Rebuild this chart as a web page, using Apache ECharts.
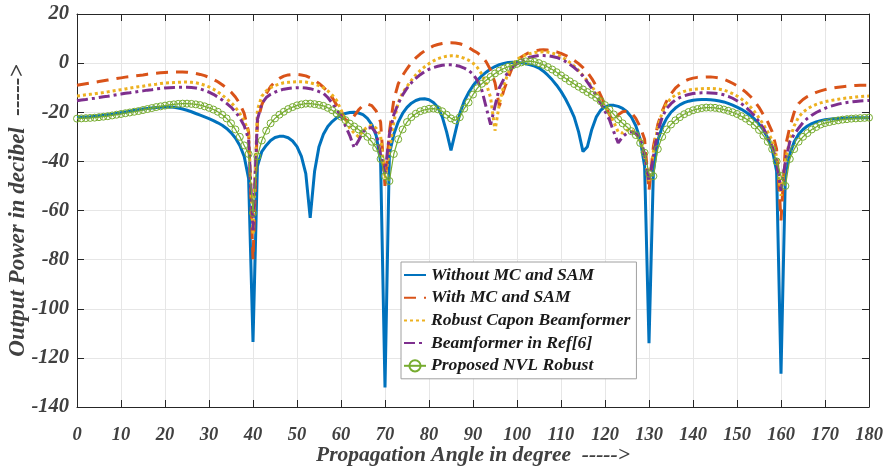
<!DOCTYPE html>
<html><head><meta charset="utf-8">
<script src="https://cdn.jsdelivr.net/npm/echarts@6/dist/echarts.min.js"></script>
<style>html,body{margin:0;padding:0;background:#fff}#c{width:886px;height:470px}</style>
</head><body><div id="c"></div>
<script>
const angles = [0,1,2,3,4,5,6,7,8,9,10,11,12,13,14,15,16,17,18,19,20,21,22,23,24,25,26,27,28,29,30,31,32,33,34,35,36,37,38,39,40,41,42,43,44,45,46,47,48,49,50,51,52,53,54,55,56,57,58,59,60,61,62,63,64,65,66,67,68,69,70,71,72,73,74,75,76,77,78,79,80,81,82,83,84,85,86,87,88,89,90,91,92,93,94,95,96,97,98,99,100,101,102,103,104,105,106,107,108,109,110,111,112,113,114,115,116,117,118,119,120,121,122,123,124,125,126,127,128,129,130,131,132,133,134,135,136,137,138,139,140,141,142,143,144,145,146,147,148,149,150,151,152,153,154,155,156,157,158,159,160,161,162,163,164,165,166,167,168,169,170,171,172,173,174,175,176,177,178,179,180];

const withoutMC = [
-22.0,-22.0,-21.9,-21.8,-21.6,-21.4,-21.2,-21.0,-20.8,-20.5,-20.2,-19.9,-19.6,-19.3,-19.0,-18.7,-18.5,-18.3,-18.1,-18.0,
-17.9,-17.9,-18.0,-18.3,-18.7,-19.2,-19.8,-20.5,-21.2,-21.9,-22.6,-23.4,-24.3,-25.3,-26.6,-28.3,-30.5,-33.5,-38.0,-47.0,
-113.5,-42,-36,-33.5,-31.5,-30.3,-29.8,-29.8,-30.4,-31.7,-34,-38,-45,-63,-44,-34,-29,-25.8,-23.8,-22.3,
-21.2,-20.5,-20.1,-20.0,-20.3,-21.0,-22.5,-25,-29.5,-40,-132,-37,-29,-24,-20.5,-18,-16.3,-15.2,-14.6,-14.5,
-14.9,-16,-18,-21.8,-28,-35.5,-28,-20.5,-15.5,-12,-9.2,-7.0,-5.2,-3.7,-2.4,-1.4,-0.6,-0.1,0.3,0.4,
0.3,0.1,-0.3,-0.7,-1.2,-2.0,-3.3,-4.9,-6.8,-9.0,-11.5,-14.5,-18,-22,-28,-36,-34,-27,-22,-19.2,
-17.8,-17.2,-17.2,-17.6,-18.4,-19.8,-22,-25.5,-31,-42,-114,-44,-31.5,-26,-22.5,-20,-18.3,-17,-16.1,-15.5,
-15.1,-14.9,-14.8,-14.8,-14.9,-15.1,-15.4,-15.8,-16.4,-17.1,-17.9,-18.8,-19.9,-21.2,-22.8,-24.8,-27.2,-30.5,-35,-44,
-126.5,-45,-37,-32,-29,-27,-25.6,-24.6,-23.9,-23.4,-23.0,-22.8,-22.6,-22.5,-22.4,-22.3,-22.3,-22.2,-22.2,-22.2,-22.2];

const withMC = [
-9.0,-8.7,-8.4,-8.1,-7.8,-7.5,-7.2,-6.9,-6.6,-6.3,-6.0,-5.7,-5.5,-5.2,-5.0,-4.8,-4.5,-4.3,-4.1,-3.9,
-3.8,-3.7,-3.6,-3.6,-3.6,-3.7,-3.9,-4.2,-4.6,-5.1,-5.8,-6.6,-7.6,-8.8,-10.2,-11.8,-13.8,-16.5,-20.5,-28,
-80,-24,-17,-12.5,-9.5,-7.6,-6.2,-5.3,-4.8,-4.6,-4.6,-4.8,-5.2,-6.0,-7.0,-8.3,-9.8,-11.7,-14,-17,
-19.5,-23,-24,-21.5,-19,-17.2,-16.6,-17.3,-19.5,-24,-50,-28,-15,-8.5,-5,-2.3,0.2,2.1,3.7,5.0,
6.1,7.0,7.6,8.0,8.3,8.3,8.2,7.9,7.3,6.4,5.2,4.2,2.8,0.5,-2.8,-8,-17.5,-11,-6,-1.5,
1.0,2.5,3.6,4.5,5.0,5.3,5.4,5.3,5.0,4.6,4.0,3.2,2.2,1.1,-0.2,-1.8,-3.8,-6.3,-9.3,-13,
-17,-21,-24,-21,-19.8,-19.5,-20.2,-22.5,-26,-31,-52,-34,-25,-19.5,-15.5,-12.5,-10.2,-8.6,-7.4,-6.6,
-6.1,-5.8,-5.7,-5.6,-5.6,-5.8,-6.1,-6.6,-7.3,-8.2,-9.2,-10.4,-11.8,-13.5,-15.5,-18,-21,-24,-28,-35,
-64,-34,-26,-20,-16.5,-14.8,-13.6,-12.7,-11.9,-11.3,-10.8,-10.4,-10.1,-9.8,-9.6,-9.4,-9.2,-9.1,-9.0,-9.0,-9.0];

const robustCapon = [
-13.4,-13.2,-12.9,-12.7,-12.5,-12.2,-12.0,-11.7,-11.4,-11.1,-10.8,-10.5,-10.2,-9.9,-9.6,-9.4,-9.1,-8.8,-8.6,-8.3,
-8.1,-8.0,-7.9,-7.8,-7.7,-7.7,-7.8,-8.0,-8.4,-9.0,-9.7,-10.6,-11.7,-13.0,-14.5,-16.0,-18.0,-20.5,-23.5,-28,
-70,-19,-13.5,-11.3,-10,-9.1,-8.5,-8.0,-7.8,-7.7,-7.6,-7.6,-7.7,-8.0,-8.5,-9.2,-10.0,-11.3,-13.0,-15.2,
-19,-23,-26.5,-28.5,-30,-27.5,-26,-25.3,-26.5,-29.5,-47,-36,-24,-16,-12,-9.5,-7,-4.8,-3,-1.5,
-0.2,0.9,1.8,2.4,2.8,3.0,2.9,2.6,2.0,1.2,0,-1.8,-4.5,-8.3,-14,-27.5,-16.5,-9,-4,-0.5,
1.5,2.6,3.4,3.9,4.3,4.5,4.6,4.5,4.1,3.5,2.7,1.6,0.3,-1.2,-3,-5,-7.2,-9.5,-12,-14.8,
-17.5,-20.5,-24,-28,-28.5,-27.3,-27.2,-28.5,-31,-38,-48,-36,-26,-20,-16.5,-14.3,-13,-12.2,-11.5,-11,
-10.7,-10.5,-10.4,-10.3,-10.3,-10.4,-10.6,-11,-11.6,-12.4,-13.4,-14.6,-16,-17.7,-19.8,-22.3,-25,-28,-31.5,-38,
-54,-40,-31,-25.5,-22,-20,-18.6,-17.6,-16.8,-16.2,-15.7,-15.3,-15,-14.7,-14.4,-14.2,-14,-13.8,-13.6,-13.5,-13.4];

const refSix = [
-15.3,-15.0,-14.8,-14.5,-14.3,-14.0,-13.7,-13.5,-13.2,-12.9,-12.6,-12.3,-12.1,-11.8,-11.5,-11.3,-11.0,-10.8,-10.5,-10.3,
-10.1,-10.0,-9.9,-9.8,-9.8,-9.8,-9.9,-10.1,-10.5,-11.1,-11.8,-12.7,-13.8,-15,-16.4,-17.9,-19.8,-22.3,-25.5,-31,
-68,-23,-16.5,-14,-12.7,-11.8,-11.1,-10.6,-10.3,-10.1,-10.0,-10.0,-10.1,-10.4,-10.9,-11.6,-12.3,-14,-16.3,-19,
-21.5,-25.5,-29.5,-34.5,-31.5,-28,-26.5,-26.2,-28.5,-37,-45,-29,-21,-16.5,-13,-10.2,-8,-6.2,-4.7,-3.5,
-2.5,-1.8,-1.3,-0.9,-0.7,-0.7,-0.9,-1.3,-2.0,-3.0,-4.5,-7,-11,-18,-25,-17.5,-10,-6.5,-3.5,-1.6,
-0.2,1.0,1.8,2.4,2.8,3.1,3.1,3.0,2.7,2.3,1.6,0.7,-0.5,-1.8,-3.4,-5.3,-7.7,-10.3,-13.2,-16.3,
-19.6,-23,-28,-32.5,-30,-28.5,-28,-28.8,-30.5,-37,-48,-38,-28,-22,-18.5,-16.5,-15,-14,-13.3,-12.8,
-12.4,-12.2,-12.1,-12.1,-12.2,-12.3,-12.5,-12.9,-13.5,-14.3,-15.3,-16.5,-17.9,-19.6,-21.5,-23.8,-26.5,-30,-34,-40,
-52,-40,-32,-29,-26.5,-24.2,-22.5,-21.2,-20.1,-19.2,-18.4,-17.7,-17.2,-16.7,-16.3,-16,-15.8,-15.6,-15.4,-15.3,-15.2];

const proposedNVL = [
-22.6,-22.5,-22.4,-22.3,-22.2,-22.0,-21.8,-21.6,-21.3,-21.0,-20.7,-20.4,-20.1,-19.8,-19.5,-19.1,-18.7,-18.3,-17.9,-17.6,
-17.3,-17.0,-16.8,-16.6,-16.5,-16.5,-16.6,-16.8,-17.1,-17.6,-18.2,-18.9,-19.8,-21.0,-22.5,-24.5,-27,-30,-33.5,-37,
-61,-38,-31.5,-27.5,-24.5,-22.5,-21,-19.8,-18.7,-17.9,-17.2,-16.8,-16.5,-16.5,-16.7,-17.0,-17.4,-18.2,-19.2,-20.5,
-21.8,-23.2,-24.6,-25.8,-27,-28.5,-30,-32,-34.5,-39,-46,-48,-37,-31,-27,-24,-22,-20.6,-19.6,-19,
-18.6,-18.5,-18.8,-19.6,-21,-22.5,-23.3,-22,-18.5,-16,-12.8,-10.2,-8.4,-7,-5.6,-4.2,-3.1,-2.2,-1.5,-0.9,
-0.3,0.3,0.7,0.8,0.5,0.0,-0.7,-1.6,-2.6,-3.7,-5.0,-6.2,-7.4,-8.5,-9.6,-10.7,-11.8,-12.9,-14.1,-15.5,
-17.1,-18.9,-20.9,-22.9,-24.5,-26,-27.7,-29.3,-32.5,-36.5,-45,-46,-35,-30,-27,-25,-23.3,-22,-20.8,-19.9,
-19.2,-18.7,-18.3,-18.1,-18.1,-18.2,-18.5,-18.9,-19.4,-20,-20.7,-21.6,-22.6,-23.8,-25.3,-27.2,-29.5,-32,-35,-40,
-46,-50,-39,-35,-32,-30,-28.5,-27,-26,-25,-24.4,-24,-23.6,-23.3,-23,-22.8,-22.6,-22.5,-22.4,-22.3,-22.2];

const seriesNames = ['Without MC and SAM','With MC and SAM','Robust Capon Beamformer','Beamformer in Ref[6]','Proposed NVL Robust'];
const xTitle = 'Propagation Angle in degree  ----->';
const yTitle = 'Output Power in decibel  ----->';

const pair = arr => angles.map((a, i) => [a, arr[i]]);
const FONT = 'Liberation Serif';
const chart = echarts.init(document.getElementById('c'), null, {renderer: 'canvas'});
const axisCommon = {
  axisLine: {show: true, onZero: false, lineStyle: {color: '#262626', width: 1}},
  axisTick: {show: true, inside: true, length: 7, lineStyle: {color: '#262626'}},
  splitLine: {show: false}
};
const noSym = {itemStyle: {opacity: 0}};
chart.setOption({
  animation: false,
  backgroundColor: '#fff',
  textStyle: {fontFamily: FONT},
  grid: {left: 77, right: 17, top: 14, bottom: 63, containLabel: false, outerBoundsMode: 'none'},
  legend: {
    orient: 'vertical', left: 401, top: 262,
    itemWidth: 22, itemHeight: 14, itemGap: 4.7,
    padding: [4, 6, 4, 2],
    borderColor: '#a0a0a0', borderWidth: 1, backgroundColor: '#fff',
    textStyle: {fontFamily: FONT, fontSize: 17.6, fontWeight: 'bold', fontStyle: 'italic', color: '#1a1a1a', lineHeight: 17},
    data: [
      Object.assign({name: seriesNames[0]}, noSym),
      Object.assign({name: seriesNames[1]}, noSym),
      Object.assign({name: seriesNames[2]}, noSym),
      Object.assign({name: seriesNames[3]}, noSym),
      {name: seriesNames[4]}
    ]
  },
  xAxis: [
    Object.assign({}, axisCommon, {
      type: 'value', min: 0, max: 180, interval: 10, position: 'bottom',
      name: xTitle, nameLocation: 'middle', nameGap: 37, nameMoveOverlap: false,
      nameTextStyle: {fontFamily: FONT, fontSize: 21.5, fontWeight: 'bold', fontStyle: 'italic', color: '#404040'},
      axisLabel: {margin: 19, fontFamily: FONT, fontSize: 18.5, fontWeight: 'bold', fontStyle: 'italic', color: '#404040'},
      splitLine: {show: true, lineStyle: {color: '#e6e6e6', width: 1}}
    }),
    Object.assign({}, axisCommon, {
      type: 'value', min: 0, max: 180, interval: 10, position: 'top',
      axisLabel: {show: false}
    })
  ],
  yAxis: [
    Object.assign({}, axisCommon, {
      type: 'value', min: -140, max: 20, interval: 20, position: 'left',
      name: yTitle, nameLocation: 'middle', nameGap: 47, nameRotate: 90, nameMoveOverlap: false,
      nameTextStyle: {fontFamily: FONT, fontSize: 23, fontWeight: 'bold', fontStyle: 'italic', color: '#404040'},
      axisLabel: {margin: 8, fontFamily: FONT, fontSize: 20.5, fontWeight: 'bold', fontStyle: 'italic', color: '#404040'},
      splitLine: {show: true, lineStyle: {color: '#e6e6e6', width: 1}}
    }),
    Object.assign({}, axisCommon, {
      type: 'value', min: -140, max: 20, interval: 20, position: 'right',
      axisLabel: {show: false}
    })
  ],
  series: [
    {name: seriesNames[0], type: 'line', data: pair(withoutMC), showSymbol: false, symbol: 'none',
     color: '#0072BD', lineStyle: {color: '#0072BD', width: 3}},
    {name: seriesNames[1], type: 'line', data: pair(withMC), showSymbol: false, symbol: 'none',
     color: '#D95319', lineStyle: {color: '#D95319', width: 3, type: [12, 8]}},
    {name: seriesNames[2], type: 'line', data: pair(robustCapon), showSymbol: false, symbol: 'none',
     color: '#EDB120', lineStyle: {color: '#EDB120', width: 3, type: [3, 3]}},
    {name: seriesNames[3], type: 'line', data: pair(refSix), showSymbol: false, symbol: 'none',
     color: '#7E2F8E', lineStyle: {color: '#7E2F8E', width: 3, type: [11, 4, 3, 4]}},
    {name: seriesNames[4], type: 'line', data: pair(proposedNVL), showSymbol: true, symbol: 'circle', symbolSize: 7,
     color: '#77AC30', lineStyle: {color: '#77AC30', width: 1.2},
     itemStyle: {color: 'rgba(255,255,255,0)', borderColor: '#77AC30', borderWidth: 1}}
  ]
});
</script></body></html>
